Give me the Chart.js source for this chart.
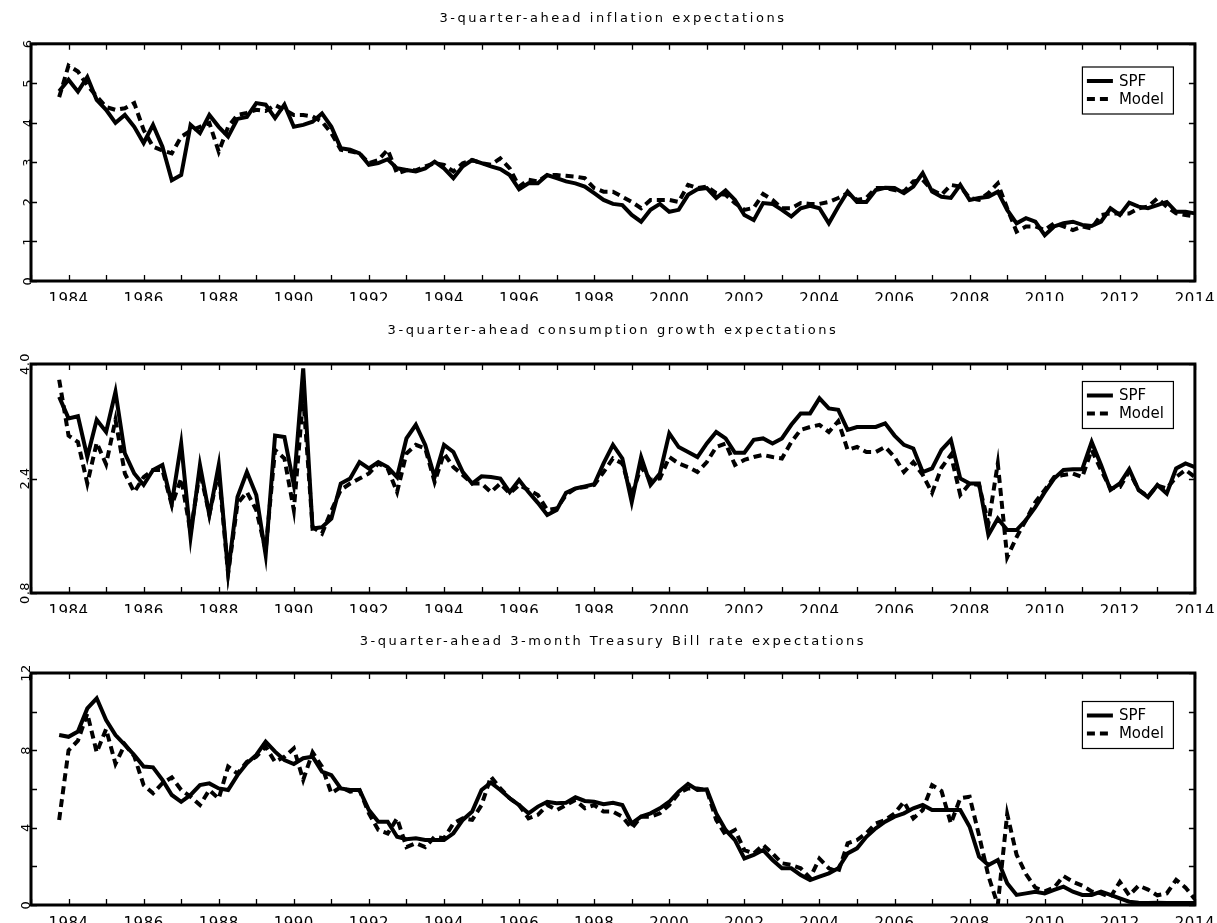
<!DOCTYPE html>
<html>
<head>
<meta charset="utf-8">
<title>3-quarter-ahead expectations: SPF vs Model</title>
<script src="https://cdn.jsdelivr.net/npm/chart.js@4/dist/chart.umd.min.js"></script>
<style>
  html, body { margin: 0; padding: 0; background: #ffffff; }
  #wrap { position: relative; width: 1217px; height: 923px; overflow: hidden; }
  #wrap canvas { position: absolute; left: 0; }
</style>
</head>
<body>
<div id="wrap">
  <canvas id="inflation" width="1217" height="301" style="top:0px"></canvas>
  <canvas id="consumption" width="1217" height="312" style="top:301px"></canvas>
  <canvas id="tbill" width="1217" height="310" style="top:613px"></canvas>
</div>
<script>
// Quarterly survey dates: first observation 1983Q4, one value per quarter through 2014Q1
const firstQuarter = 1983.75;

// 3-quarter-ahead inflation expectations (%)
const inflationSPF = [
  4.80, 5.09, 4.79, 5.16, 4.58, 4.33, 4.00, 4.20, 3.90, 3.49,
  3.95, 3.40, 2.55, 2.68, 3.95, 3.74, 4.20, 3.90, 3.65, 4.10,
  4.15, 4.50, 4.46, 4.12, 4.46, 3.90, 3.95, 4.03, 4.24, 3.90,
  3.36, 3.32, 3.23, 2.94, 2.98, 3.08, 2.85, 2.81, 2.77, 2.85,
  3.02, 2.85, 2.60, 2.90, 3.06, 2.98, 2.90, 2.83, 2.68, 2.32,
  2.47, 2.47, 2.68, 2.60, 2.52, 2.47, 2.39, 2.22, 2.05, 1.95,
  1.92, 1.67, 1.50, 1.80, 1.95, 1.75, 1.80, 2.18, 2.32, 2.35,
  2.10, 2.29, 2.05, 1.67, 1.54, 1.97, 1.95, 1.80, 1.63, 1.84,
  1.90, 1.84, 1.46, 1.88, 2.26, 2.00, 2.00, 2.30, 2.36, 2.35,
  2.22, 2.39, 2.73, 2.26, 2.13, 2.10, 2.43, 2.05, 2.10, 2.13,
  2.26, 1.80, 1.46, 1.59, 1.50, 1.16, 1.38, 1.46, 1.50, 1.42,
  1.39, 1.50, 1.84, 1.67, 1.98, 1.88, 1.84, 1.92, 2.00, 1.75,
  1.75, 1.71
];
const inflationModel = [
  4.65, 5.45, 5.30, 4.95, 4.67, 4.40, 4.33, 4.37, 4.50, 3.82,
  3.40, 3.30, 3.23, 3.65, 3.80, 3.90, 4.00, 3.27, 3.90, 4.20,
  4.25, 4.33, 4.30, 4.45, 4.33, 4.20, 4.20, 4.16, 4.03, 3.74,
  3.32, 3.28, 3.23, 2.98, 3.06, 3.32, 2.72, 2.80, 2.80, 2.90,
  2.98, 2.94, 2.77, 2.98, 3.06, 2.98, 2.94, 3.10, 2.85, 2.39,
  2.56, 2.52, 2.68, 2.68, 2.66, 2.64, 2.60, 2.35, 2.26, 2.26,
  2.13, 2.00, 1.84, 2.05, 2.05, 2.05, 2.00, 2.43, 2.35, 2.39,
  2.22, 2.18, 1.97, 1.80, 1.85, 2.20, 2.05, 1.84, 1.84, 1.97,
  1.95, 1.95, 2.00, 2.10, 2.22, 2.05, 2.10, 2.35, 2.35, 2.30,
  2.26, 2.52, 2.56, 2.30, 2.18, 2.43, 2.39, 2.10, 2.05, 2.22,
  2.47, 1.84, 1.25, 1.38, 1.38, 1.29, 1.46, 1.38, 1.29, 1.38,
  1.33, 1.67, 1.71, 1.71, 1.71, 1.84, 1.88, 2.09, 1.88, 1.71,
  1.67, 1.63
];

// 3-quarter-ahead consumption growth expectations (%)
const consumptionSPF = [
  3.54, 3.24, 3.27, 2.70, 3.22, 3.05, 3.61, 2.75, 2.47, 2.31,
  2.52, 2.59, 2.05, 2.89, 1.58, 2.59, 1.89, 2.59, 1.09, 2.14,
  2.49, 2.17, 1.33, 3.00, 2.98, 2.31, 3.94, 1.70, 1.72, 1.84,
  2.33, 2.40, 2.63, 2.54, 2.63, 2.56, 2.42, 2.96, 3.15, 2.87,
  2.42, 2.87, 2.77, 2.49, 2.33, 2.43, 2.42, 2.40, 2.21, 2.38,
  2.21, 2.06, 1.89, 1.96, 2.20, 2.26, 2.29, 2.32, 2.61, 2.87,
  2.68, 2.07, 2.70, 2.31, 2.47, 3.03, 2.84, 2.77, 2.70, 2.89,
  3.05, 2.96, 2.76, 2.76, 2.94, 2.96, 2.89, 2.96, 3.15, 3.31,
  3.31, 3.52, 3.38, 3.36, 3.08, 3.12, 3.12, 3.12, 3.17, 3.00,
  2.87, 2.82, 2.49, 2.54, 2.80, 2.94, 2.40, 2.33, 2.33, 1.61,
  1.84, 1.68, 1.68, 1.82, 2.00, 2.21, 2.40, 2.52, 2.53, 2.53,
  2.91, 2.59, 2.24, 2.33, 2.53, 2.24, 2.14, 2.31, 2.19, 2.54,
  2.61, 2.56
];
const consumptionModel = [
  3.78, 3.00, 2.91, 2.33, 2.90, 2.60, 3.22, 2.47, 2.21, 2.42,
  2.52, 2.52, 2.03, 2.40, 1.65, 2.50, 1.90, 2.50, 1.07, 2.05,
  2.21, 1.96, 1.40, 2.80, 2.68, 1.96, 3.54, 1.72, 1.63, 1.95,
  2.24, 2.33, 2.40, 2.47, 2.61, 2.54, 2.21, 2.75, 2.87, 2.82,
  2.35, 2.75, 2.56, 2.45, 2.33, 2.33, 2.21, 2.33, 2.19, 2.31,
  2.24, 2.17, 1.96, 1.98, 2.17, 2.26, 2.28, 2.31, 2.49, 2.68,
  2.61, 2.17, 2.56, 2.38, 2.40, 2.70, 2.61, 2.56, 2.49, 2.63,
  2.84, 2.89, 2.59, 2.66, 2.70, 2.73, 2.70, 2.68, 2.91, 3.08,
  3.12, 3.15, 3.05, 3.20, 2.80, 2.84, 2.77, 2.77, 2.84, 2.70,
  2.49, 2.63, 2.45, 2.20, 2.55, 2.73, 2.17, 2.33, 2.31, 1.77,
  2.61, 1.30, 1.58, 1.82, 2.07, 2.24, 2.42, 2.45, 2.47, 2.42,
  2.80, 2.52, 2.26, 2.28, 2.50, 2.24, 2.15, 2.30, 2.26, 2.42,
  2.52, 2.42
];

// 3-quarter-ahead 3-month Treasury Bill rate expectations (%)
const tbillSPF = [
  8.79, 8.70, 8.97, 10.17, 10.69, 9.57, 8.79, 8.28, 7.76, 7.16,
  7.12, 6.47, 5.69, 5.34, 5.69, 6.20, 6.29, 6.03, 5.95, 6.72,
  7.33, 7.76, 8.45, 7.93, 7.50, 7.29, 7.59, 7.67, 6.90, 6.72,
  6.03, 5.95, 5.95, 4.91, 4.31, 4.31, 3.53, 3.40, 3.45, 3.36,
  3.36, 3.36, 3.71, 4.40, 4.83, 5.95, 6.33, 5.95, 5.52, 5.17,
  4.74, 5.09, 5.34, 5.26, 5.29, 5.57, 5.38, 5.34, 5.21, 5.29,
  5.17, 4.22, 4.57, 4.74, 5.00, 5.34, 5.86, 6.26, 5.95, 5.98,
  4.74, 3.88, 3.36, 2.41, 2.59, 2.84, 2.33, 1.90, 1.90, 1.55,
  1.29, 1.47, 1.64, 1.90, 2.67, 2.93, 3.53, 3.97, 4.31, 4.57,
  4.74, 5.00, 5.17, 4.91, 4.91, 4.91, 4.91, 4.05, 2.50, 2.07,
  2.33, 1.12, 0.52, 0.60, 0.69, 0.60, 0.78, 0.95, 0.69, 0.52,
  0.52, 0.69, 0.52, 0.34, 0.17, 0.12, 0.10, 0.12, 0.10, 0.10,
  0.10, 0.10
];
const tbillModel = [
  4.40, 8.00, 8.50, 9.90, 7.90, 9.10, 7.30, 8.30, 7.70, 6.20,
  5.78, 6.30, 6.60, 5.95, 5.60, 5.17, 5.95, 5.50, 7.16, 6.80,
  7.40, 7.67, 8.19, 7.40, 7.67, 8.10, 6.47, 7.90, 7.16, 5.78,
  6.10, 5.86, 5.95, 4.74, 3.88, 3.70, 4.48, 3.00, 3.20, 3.00,
  3.53, 3.45, 4.22, 4.48, 4.40, 5.17, 6.64, 6.03, 5.52, 5.17,
  4.48, 4.66, 5.17, 4.91, 5.17, 5.43, 5.00, 5.17, 4.83, 4.83,
  4.57, 3.97, 4.57, 4.57, 4.74, 5.17, 5.78, 6.03, 6.03, 5.95,
  4.40, 3.62, 3.88, 2.84, 2.67, 3.10, 2.67, 2.16, 2.07, 1.90,
  1.40, 2.40, 1.90, 1.70, 3.19, 3.36, 3.71, 4.22, 4.40, 4.74,
  5.34, 4.48, 4.91, 6.20, 5.90, 4.22, 5.52, 5.60, 3.60, 1.50,
  0.00, 4.70, 2.60, 1.60, 0.90, 0.70, 0.90, 1.50, 1.20, 1.00,
  0.70, 0.60, 0.40, 1.20, 0.50, 1.00, 0.80, 0.50, 0.60, 1.30,
  0.90, 0.30
];

// Axis ticks
const yearMin = 1983, yearMax = 2014;
const inflationTicks = [0, 1, 2, 3, 4, 5, 6];
const consumptionTicks = [0.8, 2.4, 4.0];
const tbillTicks = [0, 2, 4, 6, 8, 10, 12];
const tbillLabelled = [0, 4, 8, 12];

const seriesNames = ['SPF', 'Model'];

Chart.defaults.font.family = "'DejaVu Sans', 'Liberation Sans', sans-serif";
Chart.defaults.color = '#000';

// Wide tracking for the title, tighter tracking for tick labels
const tracking = {
  id: 'tracking',
  beforeUpdate(chart) { chart.ctx.letterSpacing = '0.5px'; },
  beforeDraw(chart, args, opts) { chart.ctx.letterSpacing = opts.title + 'px'; },
  beforeDatasetsDraw(chart, args, opts) { chart.ctx.letterSpacing = opts.ticks + 'px'; },
  afterDraw(chart) { chart.ctx.letterSpacing = '0.5px'; }
};

// Heavy box round the plot area with inward tick marks on all four sides
const frame = {
  id: 'frame',
  afterDatasetsDraw(chart, args, opts) {
    const { ctx, chartArea: a, scales: { x, y } } = chart;
    ctx.save();
    ctx.strokeStyle = '#000';
    ctx.lineWidth = 1.3;
    ctx.beginPath();
    x.ticks.forEach(t => {
      const px = Math.round(x.getPixelForValue(t.value)) + 0.5;
      ctx.moveTo(px, a.top); ctx.lineTo(px, a.top + opts.tick);
      ctx.moveTo(px, a.bottom); ctx.lineTo(px, a.bottom - opts.tick);
    });
    y.ticks.forEach(t => {
      const py = Math.round(y.getPixelForValue(t.value)) + 0.5;
      ctx.moveTo(a.left, py); ctx.lineTo(a.left + opts.tick, py);
      ctx.moveTo(a.right, py); ctx.lineTo(a.right - opts.tick, py);
    });
    ctx.stroke();
    ctx.lineWidth = 3;
    ctx.strokeRect(a.left, a.top, a.right - a.left, a.bottom - a.top);
    ctx.restore();
  }
};

// Boxed key in the upper-right corner of the plot area
const boxedKey = {
  id: 'boxedKey',
  afterDraw(chart, args, opts) {
    const { ctx, chartArea: a } = chart;
    const w = 91, h = 47;
    const left = a.right - opts.right - w;
    const top = a.top + opts.top;
    ctx.save();
    ctx.letterSpacing = '0px';
    ctx.fillStyle = '#fff';
    ctx.fillRect(left, top, w, h);
    ctx.strokeStyle = '#000';
    ctx.lineWidth = 1.2;
    ctx.strokeRect(left + 0.5, top + 0.5, w, h);
    ctx.font = "15px 'DejaVu Sans', sans-serif";
    ctx.textBaseline = 'middle';
    ctx.fillStyle = '#000';
    chart.data.datasets.forEach((ds, i) => {
      const rowY = top + 14.5 + i * 18;
      ctx.beginPath();
      ctx.lineWidth = ds.borderWidth;
      ctx.setLineDash(ds.borderDash || []);
      ctx.moveTo(left + 5, rowY);
      ctx.lineTo(left + 31, rowY);
      ctx.stroke();
      ctx.setLineDash([]);
      ctx.fillText(ds.label, left + 37, rowY + 1);
    });
    ctx.restore();
  }
};

function points(values) {
  return values.map((v, i) => ({ x: firstQuarter + i * 0.25, y: v }));
}

function makePanel(id, cfg) {
  return new Chart(document.getElementById(id), {
    type: 'line',
    data: {
      datasets: [
        { label: seriesNames[0], data: points(cfg.spf), borderColor: '#000', borderWidth: 4,
          pointRadius: 0, tension: 0, fill: false, borderJoinStyle: 'miter', borderCapStyle: 'butt' },
        { label: seriesNames[1], data: points(cfg.model), borderColor: '#000', borderWidth: 4,
          borderDash: [8, 5], pointRadius: 0, tension: 0, fill: false, borderCapStyle: 'butt' }
      ]
    },
    options: {
      responsive: false,
      animation: false,
      events: [],
      layout: { padding: { left: 0, right: 22, top: 0, bottom: 0 } },
      plugins: {
        legend: { display: false },
        tooltip: { enabled: false },
        title: {
          display: true,
          text: cfg.title,
          fullSize: false,
          color: '#000',
          font: { size: 13, weight: 'normal', lineHeight: 1.2 },
          padding: { top: cfg.titleTop, bottom: cfg.titleBottom }
        },
        tracking: { title: 2.55, ticks: 0.5 },
        frame: { tick: 6 },
        boxedKey: { top: cfg.keyTop, right: 22 }
      },
      scales: {
        x: {
          type: 'linear',
          min: yearMin,
          max: yearMax,
          grid: { display: false },
          border: { display: false },
          afterFit(scale) { scale.height = cfg.xHeight; },
          ticks: {
            stepSize: 1,
            autoSkip: false,
            maxRotation: 0,
            minRotation: 0,
            padding: 2,
            z: 1,
            font: { size: 15 },
            callback: v => (v % 2 === 0 ? String(v) : '')
          }
        },
        y: {
          type: 'linear',
          min: cfg.yMin,
          max: cfg.yMax,
          grid: { display: false },
          border: { display: false },
          afterFit(scale) { scale.width = 31; },
          afterBuildTicks(scale) { scale.ticks = cfg.yTicks.map(v => ({ value: v })); },
          ticks: {
            minRotation: 90,
            maxRotation: 90,
            crossAlign: 'center',
            padding: cfg.yPad,
            z: 1,
            font: { size: 13 },
            callback: cfg.yLabel
          }
        }
      }
    },
    plugins: [tracking, frame, boxedKey]
  });
}

makePanel('inflation', {
  title: '3-quarter-ahead inflation expectations',
  spf: inflationSPF, model: inflationModel,
  yMin: 0, yMax: 6, yTicks: inflationTicks,
  yLabel: v => String(v),
  yPad: -10, titleTop: 10.7, titleBottom: 17.5, xHeight: 20, keyTop: 22.7
});

makePanel('consumption', {
  title: '3-quarter-ahead consumption growth expectations',
  spf: consumptionSPF, model: consumptionModel,
  yMin: 0.8, yMax: 4.0, yTicks: consumptionTicks,
  yLabel: v => Number(v).toFixed(1),
  yPad: -14, titleTop: 22.2, titleBottom: 25.2, xHeight: 20, keyTop: 17
});

makePanel('tbill', {
  title: '3-quarter-ahead 3-month Treasury Bill rate expectations',
  spf: tbillSPF, model: tbillModel,
  yMin: 0, yMax: 12, yTicks: tbillTicks,
  yLabel: v => (tbillLabelled.includes(v) ? String(v) : ''),
  yPad: -12, titleTop: 20.7, titleBottom: 23.7, xHeight: 18, keyTop: 28
});
</script>
</body>
</html>
